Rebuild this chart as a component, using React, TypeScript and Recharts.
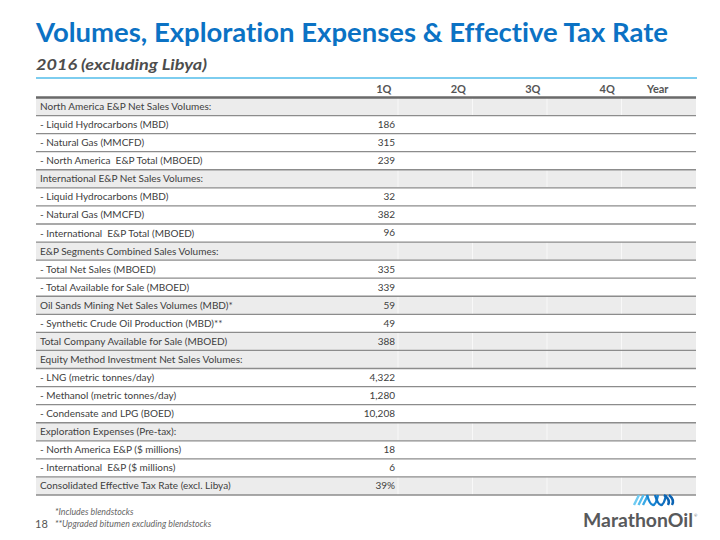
import React from 'react';
import {
  ComposedChart,
  Bar,
  XAxis,
  YAxis,
  ReferenceArea,
  ReferenceLine,
  LabelList,
} from 'recharts';

const rowLabels: string[] = [
  'North America E&P Net Sales Volumes:',
  '- Liquid Hydrocarbons (MBD)',
  '- Natural Gas (MMCFD)',
  '- North America  E&P Total (MBOED)',
  'International E&P Net Sales Volumes:',
  '- Liquid Hydrocarbons (MBD)',
  '- Natural Gas (MMCFD)',
  '- International  E&P Total (MBOED)',
  'E&P Segments Combined Sales Volumes:',
  '- Total Net Sales (MBOED)',
  '- Total Available for Sale (MBOED)',
  'Oil Sands Mining Net Sales Volumes (MBD)*',
  '- Synthetic Crude Oil Production (MBD)**',
  'Total Company Available for Sale (MBOED)',
  'Equity Method Investment Net Sales Volumes:',
  '- LNG (metric tonnes/day)',
  '- Methanol (metric tonnes/day)',
  '- Condensate and LPG (BOED)',
  'Exploration Expenses (Pre-tax):',
  '- North America E&P ($ millions)',
  '- International  E&P ($ millions)',
  'Consolidated Effective Tax Rate (excl. Libya)',
];

const shadedRows: boolean[] = [
  true, false, false, false,
  true, false, false, false,
  true, false, false,
  true, false,
  true,
  true, false, false, false,
  true, false, false,
  true,
];

const q1Values: (number | null)[] = [
  null, 186, 315, 239,
  null, 32, 382, 96,
  null, 335, 339,
  59, 49,
  388,
  null, 4322, 1280, 10208,
  null, 18, 6,
  39,
];

const q1Units: string[] = [
  '', '', '', '',
  '', '', '', '',
  '', '', '',
  '', '',
  '',
  '', '', '', '',
  '', '', '',
  '%',
];

const columns: string[] = ['1Q', '2Q', '3Q', '4Q', 'Year'];

const titleText = 'Volumes, Exploration Expenses & Effective Tax Rate';
const subtitleText = '2016 (excluding Libya)';
const footnotes: string[] = ['*Includes blendstocks', '**Upgraded bitumen excluding blendstocks'];
const pageNumber = '18';

type Row = {
  id: string;
  label: string;
  shaded: boolean;
  q1: number | null;
  display: string | null;
};

const rows: Row[] = rowLabels.map((label, i) => ({
  id: `r${i}`,
  label,
  shaded: shadedRows[i],
  q1: q1Values[i],
  display: q1Values[i] == null ? null : q1Values[i]!.toLocaleString('en-US') + q1Units[i],
}));

const labelById = new Map(rows.map((r) => [r.id, r.label]));

// width of the label column, in "value column" units
const LABEL_SPAN = 3.86;
const separators = columns.slice(1).map((_, i) => i + 1);
const SEP_HALF = 0.007;

const FONT = 'Lato, "Open Sans", "DejaVu Sans", sans-serif';
const TEXT = '#404040';

const RowTick = (props: any) => {
  const { x, y, payload } = props;
  const label = labelById.get(payload.value) ?? '';
  return (
    <text x={x + 4} y={y} dy="0.35em" textAnchor="start" fontFamily={FONT} fontSize={10} fill={TEXT} style={{ whiteSpace: 'pre' }}>
      {label}
    </text>
  );
};

const HeaderTick = (props: any) => {
  const { x, y, payload } = props;
  const name = columns[Math.floor(payload.value)] ?? '';
  const dx = name === 'Year' ? -1 : 23;
  return (
    <text x={x + dx} y={y} dy={-4.5} textAnchor="middle" fontFamily={FONT} fontWeight={700} fontSize={11} fill="#555555">
      {name}
    </text>
  );
};

const ValueLabel = (props: any) => {
  const { x, y, width, height, value } = props;
  if (value == null || value === '') return null;
  return (
    <text x={x + width - 3} y={y + height / 2} dy="0.35em" textAnchor="end" fontFamily={FONT} fontSize={10} fill={TEXT}>
      {value}
    </text>
  );
};

const q1Span = (r: Row) => (r.q1 == null ? null : [0, 1]);

export default function App() {
  const shaded = rows.filter((r) => r.shaded);
  return (
    <div style={{ position: 'absolute', left: 0, top: 0, width: 720, height: 540, background: '#ffffff' }}>
      <div style={{ position: 'absolute', left: 0, top: 0 }}>
        <ComposedChart width={720} height={540} data={rows} layout="vertical" margin={{ top: 78, right: 24, bottom: 45, left: 35 }} barCategoryGap={0}>
          <XAxis
            type="number"
            orientation="top"
            domain={[-LABEL_SPAN, columns.length]}
            ticks={columns.map((_, i) => i + 0.5)}
            tick={<HeaderTick />}
            tickLine={false}
            axisLine={false}
            tickSize={0}
            tickMargin={0}
            height={19.5}
            interval={0}
            allowDataOverflow
          />
          <YAxis type="category" dataKey="id" width={1} tick={<RowTick />} tickLine={false} axisLine={false} tickSize={0} tickMargin={0} interval={0} />
          {shaded.map((r) => (
            <ReferenceArea key={`bg-${r.id}`} y1={r.id} y2={r.id} fill="#ececec" fillOpacity={1} stroke="none" ifOverflow="visible" />
          ))}
          {shaded.flatMap((r) =>
            separators.map((c) => (
              <ReferenceArea
                key={`sep-${r.id}-${c}`}
                y1={r.id}
                y2={r.id}
                x1={c - SEP_HALF}
                x2={c + SEP_HALF}
                fill="#f8f8f8"
                fillOpacity={1}
                stroke="none"
                ifOverflow="visible"
              />
            ))
          )}
          {rows.map((r) => (
            <ReferenceLine key={`ln-${r.id}`} y={r.id} position="end" stroke="#8c8c8c" strokeWidth={1.3} ifOverflow="visible" />
          ))}
          <ReferenceLine y={rows[0].id} position="start" stroke="#6a6a6a" strokeWidth={2.5} ifOverflow="visible" />
          <Bar dataKey={q1Span as any} name="1Q" fill="transparent" isAnimationActive={false}>
            <LabelList dataKey="display" content={<ValueLabel />} />
          </Bar>
        </ComposedChart>
      </div>
      <svg width={720} height={540} style={{ position: 'absolute', left: 0, top: 0, pointerEvents: 'none' }}>
        <text x={36} y={42} fontFamily={FONT} fontWeight={700} fontSize={26} fill="#0b72c4" textLength={632} lengthAdjust="spacingAndGlyphs" style={{ fontVariantLigatures: 'none' }}>
          {titleText}
        </text>
        <text x={36} y={70} fontFamily={FONT} fontWeight={700} fontStyle="italic" fontSize={16} fill="#4d4d4d" textLength={171} lengthAdjust="spacingAndGlyphs">
          {subtitleText}
        </text>
        <line x1={36} y1={78} x2={697} y2={78} stroke="#7dcdef" strokeWidth={2} />
        <text x={35} y={528} fontFamily={FONT} fontSize={11} fill="#555555">
          {pageNumber}
        </text>
        {footnotes.map((f, i) => (
          <text key={f} x={55} y={515 + i * 11.5} fontFamily={FONT} fontStyle="italic" fontSize={8.8} fill="#666666">
            {f}
          </text>
        ))}
        <g strokeWidth={2.4} strokeLinecap="butt" fill="none">
          <path d="M634 505 L639 495" stroke="#6fcbf2" />
          <path d="M638.5 505 L643.5 495" stroke="#55bdee" />
          <path d="M643 505 L648 495" stroke="#3aa9e6" />
          <path d="M647 495 Q650 505 653 505 Q656 505 658 495" stroke="#1684d2" />
          <path d="M655 495 Q658 505 661 505 Q664 505 666 495" stroke="#0f70c0" />
          <path d="M664 495 Q671 500 668 505" stroke="#0b63b3" />
          <path d="M669 495 Q675 500 672 505" stroke="#0b63b3" />
        </g>
        <text x={583} y={527} fontFamily={FONT} fontWeight={700} fontSize={19} fill="#58595b" textLength={110} lengthAdjust="spacingAndGlyphs">
          MarathonOil
        </text>
        <text x={694} y={517} fontFamily={FONT} fontSize={4} fill="#58595b">®</text>
      </svg>
    </div>
  );
}
